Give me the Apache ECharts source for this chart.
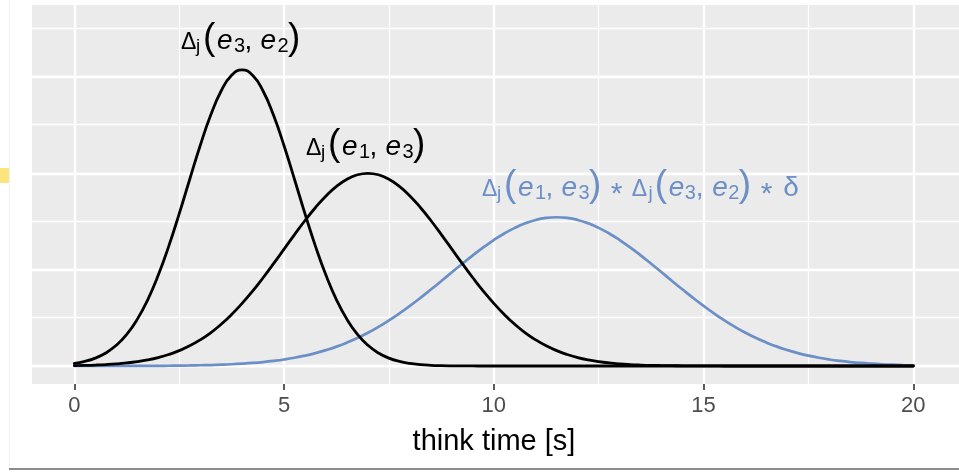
<!DOCTYPE html>
<html>
<head>
<meta charset="utf-8">
<script src="https://cdn.jsdelivr.net/npm/echarts@6/dist/echarts.min.js"></script>
<style>
html,body{margin:0;padding:0;background:#fff;}
#chart{width:959px;height:472px;}
</style>
</head>
<body>
<div id="chart"></div>
<script>
// think time [s]
var thinkTime = [0,0.25,0.5,0.75,1,1.25,1.5,1.75,2,2.25,2.5,2.75,3,3.25,3.5,3.75,4,4.25,4.5,4.75,5,5.25,5.5,5.75,6,6.25,6.5,6.75,7,7.25,7.5,7.75,8,8.25,8.5,8.75,9,9.25,9.5,9.75,10,10.25,10.5,10.75,11,11.25,11.5,11.75,12,12.25,12.5,12.75,13,13.25,13.5,13.75,14,14.25,14.5,14.75,15,15.25,15.5,15.75,16,16.25,16.5,16.75,17,17.25,17.5,17.75,18,18.25,18.5,18.75,19,19.25,19.5,19.75,20];
// Δj(e3, e2)
var deltaE3E2 = [0.054,0.096,0.164,0.269,0.428,0.654,0.965,1.371,1.878,2.477,3.150,3.861,4.560,5.190,5.693,6.018,6.130,6.018,5.693,5.190,4.560,3.861,3.150,2.477,1.878,1.371,0.965,0.654,0.428,0.269,0.164,0.096,0.054,0.029,0.015,0.008,0.004,0.002,0.001,0,0,0,0,0,0,0,0,0,0,0,0,0,0,0,0,0,0,0,0,0,0,0,0,0,0,0,0,0,0,0,0,0,0,0,0,0,0,0,0,0,0];
// Δj(e1, e3)
var deltaE1E3 = [0.009,0.013,0.020,0.030,0.044,0.064,0.091,0.127,0.175,0.238,0.318,0.417,0.540,0.688,0.863,1.066,1.296,1.550,1.827,2.119,2.420,2.721,3.012,3.282,3.521,3.719,3.867,3.959,3.990,3.959,3.867,3.719,3.521,3.282,3.012,2.721,2.420,2.119,1.827,1.550,1.296,1.066,0.863,0.688,0.540,0.417,0.318,0.238,0.175,0.127,0.091,0.064,0.044,0.030,0.020,0.013,0.009,0.006,0.004,0.002,0.001,0.001,0,0,0,0,0,0,0,0,0,0,0,0,0,0,0,0,0,0,0];
// Δj(e1, e3) * Δj(e3, e2) * δ
var combined = [0,0,0,0.001,0.001,0.001,0.002,0.003,0.004,0.005,0.008,0.011,0.015,0.020,0.027,0.036,0.048,0.063,0.082,0.106,0.135,0.171,0.215,0.267,0.329,0.401,0.485,0.581,0.689,0.810,0.943,1.088,1.245,1.410,1.583,1.760,1.940,2.118,2.291,2.456,2.608,2.744,2.860,2.954,3.024,3.066,3.080,3.066,3.024,2.954,2.860,2.744,2.608,2.456,2.291,2.118,1.940,1.760,1.583,1.410,1.245,1.088,0.943,0.810,0.689,0.581,0.485,0.401,0.329,0.267,0.215,0.171,0.135,0.106,0.082,0.063,0.048,0.036,0.027,0.020,0.015];
var xTicks = [0,5,10,15,20];

function pairs(ys){ return thinkTime.map(function(x,i){ return [x, ys[i]]; }); }

var FF = 'Liberation Sans';
function richStyles(color){
  function st(fs, pt, w, italic, align){
    return {
      fontFamily: FF, fontSize: fs, fontStyle: italic ? 'italic' : 'normal',
      fill: color, verticalAlign: 'top', align: align || 'left',
      padding: [pt, 0, 0, 0], width: w
    };
  }
  return {
    D: st(23, 11.4, 15),
    j: st(19, 17.6, 7),
    L: st(37, 0, 14),
    R: st(37, 0, 12),
    e: st(28, 7.3, 17, true),
    n: st(20, 16.8, 10.5),
    c: st(28, 7.3, 16),
    t: st(30, 12.7, 31, false, 'center'),
    d: st(28, 7.3, 18)
  };
}
var BLUE = '#6B8FC6';

var chart = echarts.init(document.getElementById('chart'), null, {renderer:'canvas'});
var option = {
  animation: false,
  backgroundColor: '#ffffff',
  grid: [
    {left:74.3, right:45.7, top:5, bottom:88, show:false},
    {left:32, right:0, top:28, bottom:106, show:false},
    {left:32, right:0, top:77, bottom:106, show:false}
  ],
  xAxis: [
    {gridIndex:0, type:'value', min:0, max:20, interval:5, position:'bottom',
     axisLine:{show:false, onZero:false},
     axisTick:{show:true, length:6, lineStyle:{color:'#333333', width:1.6}},
     axisLabel:{show:true, margin:11, fontFamily:FF, fontSize:22, color:'#4D4D4D'},
     splitLine:{show:true, lineStyle:{color:'#ffffff', width:2.4}},
     minorTick:{show:false, splitNumber:2},
     minorSplitLine:{show:true, lineStyle:{color:'#ffffff', width:1.2}}
    },
    {gridIndex:1, type:'value', min:0, max:1, show:false},
    {gridIndex:2, type:'value', min:0, max:1, show:false}
  ],
  yAxis: [
    {gridIndex:0, type:'value', min:-0.3727, max:7.474, show:false, splitLine:{show:false}},
    {gridIndex:1, type:'value', min:0, max:7, interval:1,
     axisLine:{show:false}, axisTick:{show:false}, axisLabel:{show:false},
     splitLine:{show:true, lineStyle:{color:'#ffffff', width:1.3}}},
    {gridIndex:2, type:'value', min:0, max:6, interval:2,
     axisLine:{show:false}, axisTick:{show:false}, axisLabel:{show:false},
     splitLine:{show:true, lineStyle:{color:'#ffffff', width:2.3}}}
  ],
  series: [
    {type:'line', name:'Δj(e1, e3) * Δj(e3, e2) * δ', xAxisIndex:0, yAxisIndex:0, data:pairs(combined),
     smooth:true, showSymbol:false, symbol:'none', z:3,
     lineStyle:{color:BLUE, width:2.7, cap:'round'}},
    {type:'line', name:'Δj(e1, e3)', xAxisIndex:0, yAxisIndex:0, data:pairs(deltaE1E3),
     smooth:true, showSymbol:false, symbol:'none', z:4,
     lineStyle:{color:'#000000', width:2.8, cap:'round'}},
    {type:'line', name:'Δj(e3, e2)', xAxisIndex:0, yAxisIndex:0, data:pairs(deltaE3E2),
     smooth:true, showSymbol:false, symbol:'none', z:4,
     lineStyle:{color:'#000000', width:2.8, cap:'round'}}
  ],
  graphic: [
    {type:'rect', z:-100, silent:true, shape:{x:32, y:5, width:927, height:379}, style:{fill:'#EBEBEB'}},
    {type:'rect', z:-100, silent:true, shape:{x:0, y:168, width:10, height:15}, style:{fill:'#FDE47C'}},
    {type:'line', z:-100, silent:true, shape:{x1:9.5, y1:0, x2:9.5, y2:469}, style:{stroke:'#F0F0F0', lineWidth:1}},
    {type:'line', z:-100, silent:true, shape:{x1:9, y1:469, x2:959, y2:469}, style:{stroke:'#8C8C8C', lineWidth:2}},
    {type:'text', z:50, x:181, y:20, style:{
      text:'{D|Δ}{j|j}{L|(}{e|e}{n|3}{c|, }{e|e}{n|2}{R|)}',
      rich:richStyles('#000000'), fill:'#000000', fontFamily:FF, fontSize:26, align:'left', verticalAlign:'top'}},
    {type:'text', z:50, x:306, y:126, style:{
      text:'{D|Δ}{j|j}{L|(}{e|e}{n|1}{c|, }{e|e}{n|3}{R|)}',
      rich:richStyles('#000000'), fill:'#000000', fontFamily:FF, fontSize:26, align:'left', verticalAlign:'top'}},
    {type:'text', z:50, x:482, y:167, style:{
      text:'{D|Δ}{j|j}{L|(}{e|e}{n|1}{c|, }{e|e}{n|3}{R|)}{t|*}{D|Δ}{j|j}{L|(}{e|e}{n|3}{c|, }{e|e}{n|2}{R|)}{t|*}{d|δ}',
      rich:richStyles(BLUE), fill:BLUE, fontFamily:FF, fontSize:26, align:'left', verticalAlign:'top'}},
    {type:'text', z:50, x:494, y:442, style:{
      text:'think time [s]', fill:'#000000', fontFamily:FF, fontSize:29, align:'center', verticalAlign:'middle'}}
  ]
};
chart.setOption(option);
</script>
</body>
</html>
